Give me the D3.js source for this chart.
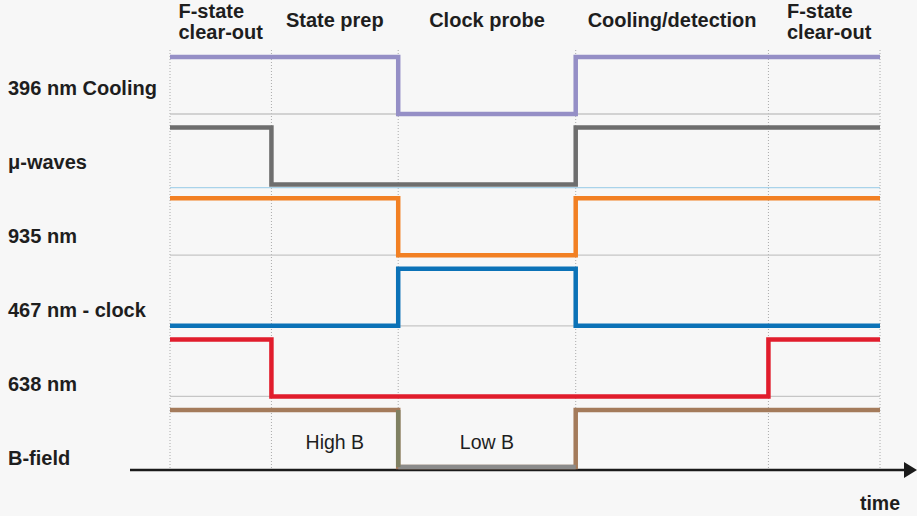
<!DOCTYPE html>
<html>
<head>
<meta charset="utf-8">
<script src="https://cdn.jsdelivr.net/npm/d3@7"></script>
<style>
  body { margin: 0; background: #f7f7f7; }
  text { font-family: "Liberation Sans", Arial, sans-serif; fill: #1e1e1e; }
</style>
</head>
<body>
<div id="chart"></div>
<script>
"use strict";

// phase boundaries in arbitrary time units
const times = [0, 1.0, 2.25, 4.0, 5.9, 7.0];
const phaseNames = [["F-state", "clear-out"], ["State prep"], ["Clock probe"], ["Cooling/detection"], ["F-state", "clear-out"]];
const signalNames = ["396 nm Cooling", "\u03bc-waves", "935 nm", "467 nm - clock", "638 nm", "B-field"];
// on/off state of each signal in each of the 5 phases
const signalStates = [
    [1, 1, 0, 1, 1],
    [1, 0, 0, 1, 1],
    [1, 1, 0, 1, 1],
    [0, 0, 1, 0, 0],
    [1, 0, 0, 0, 1],
    [1, 1, 0, 1, 1]
];
const signalColors = ["#958fc6", "#6e6e6e", "#f28023", "#0b72b7", "#e11d2c", "#a47b5b"];
const baseColors = ["#c6c6c6", "#a9d3ea", "#c6c6c6", "#c6c6c6", "#c6c6c6", null];
const fieldLabels = [{ phase: 1, text: "High B" }, { phase: 2, text: "Low B" }];

const msm = { width: 917, height: 516 };

window.onload = function () {
    let svg = d3.select("#chart")
        .append("svg")
        .attr("width", msm.width)
        .attr("height", msm.height);

    svg.append("rect")
        .attr("width", msm.width)
        .attr("height", msm.height)
        .attr("fill", "#f7f7f7");

    let x = d3.scaleLinear().domain([0, 7]).range([170, 880]);
    let rowTop = d3.scaleLinear().domain([0, 5]).range([57, 410]);
    let labelY = d3.scaleLinear().domain([0, 5]).range([95, 465]);
    let levelH = 57;
    let yFor = (i, s) => rowTop(i) + (1 - s) * levelH;

    // dotted phase separators
    svg.selectAll(".sep")
        .data(times)
        .enter()
        .append("line")
        .attr("x1", (d) => x(d))
        .attr("x2", (d) => x(d))
        .attr("y1", 50)
        .attr("y2", 470)
        .attr("stroke", "#aaaaaa")
        .attr("stroke-width", 1)
        .attr("stroke-dasharray", "1,2");

    // thin baselines at each low level
    signalNames.forEach((name, i) => {
        if (!baseColors[i]) return;
        svg.append("line")
            .attr("x1", x(times[0]))
            .attr("x2", x(times[times.length - 1]))
            .attr("y1", yFor(i, 0) + (i == 1 ? 3 : 0))
            .attr("y2", yFor(i, 0) + (i == 1 ? 3 : 0))
            .attr("stroke", baseColors[i])
            .attr("stroke-width", 1.3);
    });

    // time axis with arrow
    svg.append("line")
        .attr("x1", 130)
        .attr("x2", 906)
        .attr("y1", 470)
        .attr("y2", 470)
        .attr("stroke", "#1a1a1a")
        .attr("stroke-width", 2.5);
    svg.append("path")
        .attr("d", "M904,462 L917,470 L904,478 Z")
        .attr("fill", "#1a1a1a");

    // signal traces
    let line = d3.line().curve(d3.curveStepAfter);
    signalStates.forEach((states, i) => {
        let pts = states.map((s, j) => [x(times[j]), yFor(i, s)]);
        pts.push([x(times[times.length - 1]), yFor(i, states[states.length - 1])]);
        svg.append("path")
            .attr("d", line(pts))
            .attr("fill", "none")
            .attr("stroke", signalColors[i])
            .attr("stroke-width", 4.5)
            .attr("stroke-linejoin", "miter");
    });

    // B-field low part drawn in gray
    let bIdx = signalStates.length - 1;
    signalStates[bIdx].forEach((s, j) => {
        if (s != 0) return;
        svg.append("line")
            .attr("x1", x(times[j]))
            .attr("x2", x(times[j + 1]))
            .attr("y1", yFor(bIdx, 0))
            .attr("y2", yFor(bIdx, 0))
            .attr("stroke", "#8b8b8b")
            .attr("stroke-width", 4.5);
        svg.append("line")
            .attr("x1", x(times[j]))
            .attr("x2", x(times[j]))
            .attr("y1", yFor(bIdx, 1))
            .attr("y2", yFor(bIdx, 0))
            .attr("stroke", "#7f8062")
            .attr("stroke-width", 4.5);
    });

    // signal labels
    svg.selectAll(".sig")
        .data(signalNames)
        .enter()
        .append("text")
        .attr("x", 8)
        .attr("y", (d, i) => labelY(i))
        .style("font-size", "20px")
        .style("font-weight", "bold")
        .text((d) => d);

    // phase headers
    phaseNames.forEach((lines, j) => {
        let cx = (x(times[j]) + x(times[j + 1])) / 2;
        let t = svg.append("text")
            .style("font-size", "20px")
            .style("font-weight", "bold");
        if (lines.length == 1) {
            t.attr("x", cx).attr("y", 27).attr("text-anchor", "middle").text(lines[0]);
        } else {
            lines.forEach((l, k) => {
                t.append("tspan").attr("y", 18 + k * 20.5).text(l);
            });
            let w = d3.max(t.selectAll("tspan").nodes(), (n) => n.getComputedTextLength());
            t.selectAll("tspan").attr("x", cx - w / 2 + (j == 4 ? 5 : 0));
        }
    });

    // field labels
    svg.selectAll(".fld")
        .data(fieldLabels)
        .enter()
        .append("text")
        .attr("x", (d) => (x(times[d.phase]) + x(times[d.phase + 1])) / 2)
        .attr("y", 449)
        .attr("text-anchor", "middle")
        .style("font-size", "19.5px")
        .text((d) => d.text);

    svg.append("text")
        .attr("x", 900)
        .attr("y", 510)
        .attr("text-anchor", "end")
        .style("font-size", "19.5px")
        .style("font-weight", "bold")
        .text("time");
}
</script>
</body>
</html>
